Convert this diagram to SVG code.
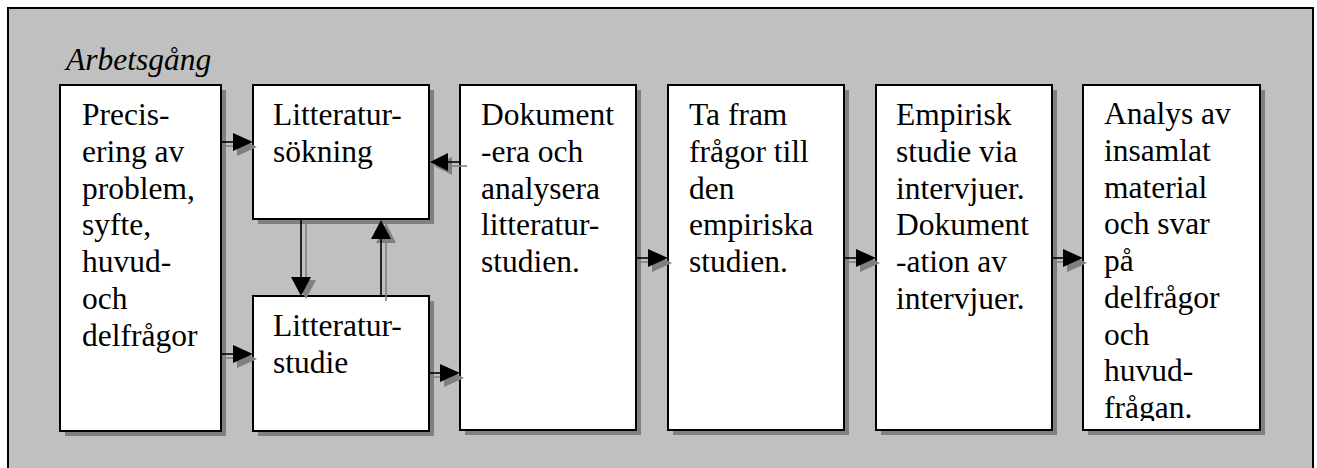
<svg xmlns="http://www.w3.org/2000/svg" width="1317" height="468" viewBox="0 0 1317 468">
  <style>
    .frame { fill: #c0c0c0; stroke: #000; stroke-width: 2; }
    .box { fill: #fff; stroke: #000; stroke-width: 2; }
    .shadow { fill: #808080; }
    text { font-family: 'Liberation Serif', Tinos, 'Nimbus Roman', 'Nimbus Roman No9 L', 'Noto Serif', 'DejaVu Serif', FreeSerif, Times, serif; font-size: 31.5px; fill: #000; }
    .title { font-style: italic; }
    .line { stroke: #000; stroke-width: 1.6; fill: none; }
    .line-sh { stroke: #808080; stroke-width: 1.6; fill: none; }
    .head { fill: #000; }
    .head-sh { fill: #808080; }
  </style>
  <defs>
    <clipPath id="clip-analys">
      <rect x="1083" y="85" width="177" height="336"/>
    </clipPath>
  </defs>

  <!-- background panel (open at the bottom) -->
  <rect class="frame" x="8" y="8" width="1305" height="480"/>

  <text class="title" x="66" y="70">Arbetsgång</text>

  <!-- process steps -->
  <g id="precisering">
    <rect class="shadow" x="65" y="90" width="161" height="346"/>
    <rect class="box" x="60" y="85" width="161" height="346"/>
    <text x="82" y="125">
      <tspan x="82">Precis-</tspan>
      <tspan x="82" dy="36.75">ering av</tspan>
      <tspan x="82" dy="36.75">problem,</tspan>
      <tspan x="82" dy="36.75">syfte,</tspan>
      <tspan x="82" dy="36.75">huvud-</tspan>
      <tspan x="82" dy="36.75">och</tspan>
      <tspan x="82" dy="36.75">delfrågor</tspan>
    </text>
  </g>

  <g id="litteratursokning">
    <rect class="shadow" x="258" y="90" width="176" height="134"/>
    <rect class="box" x="253" y="85" width="176" height="134"/>
    <text x="273" y="125">
      <tspan x="273">Litteratur-</tspan>
      <tspan x="273" dy="36.75">sökning</tspan>
    </text>
  </g>

  <g id="litteraturstudie">
    <rect class="shadow" x="258" y="301" width="176" height="135"/>
    <rect class="box" x="253" y="296" width="176" height="135"/>
    <text x="273" y="336">
      <tspan x="273">Litteratur-</tspan>
      <tspan x="273" dy="36.75">studie</tspan>
    </text>
  </g>

  <g id="dokumentera">
    <rect class="shadow" x="465" y="90" width="176" height="345"/>
    <rect class="box" x="460" y="85" width="176" height="345"/>
    <text x="481" y="125">
      <tspan x="481">Dokument</tspan>
      <tspan x="481" dy="36.75">-era och</tspan>
      <tspan x="481" dy="36.75">analysera</tspan>
      <tspan x="481" dy="36.75">litteratur-</tspan>
      <tspan x="481" dy="36.75">studien.</tspan>
    </text>
  </g>

  <g id="fragor">
    <rect class="shadow" x="673" y="90" width="176" height="345"/>
    <rect class="box" x="668" y="85" width="176" height="345"/>
    <text x="689" y="125">
      <tspan x="689">Ta fram</tspan>
      <tspan x="689" dy="36.75">frågor till</tspan>
      <tspan x="689" dy="36.75">den</tspan>
      <tspan x="689" dy="36.75">empiriska</tspan>
      <tspan x="689" dy="36.75">studien.</tspan>
    </text>
  </g>

  <g id="empirisk">
    <rect class="shadow" x="881" y="90" width="176" height="345"/>
    <rect class="box" x="876" y="85" width="176" height="345"/>
    <text x="896" y="125">
      <tspan x="896">Empirisk</tspan>
      <tspan x="896" dy="36.75">studie via</tspan>
      <tspan x="896" dy="36.75">intervjuer.</tspan>
      <tspan x="896" dy="36.75">Dokument</tspan>
      <tspan x="896" dy="36.75">-ation av</tspan>
      <tspan x="896" dy="36.75">intervjuer.</tspan>
    </text>
  </g>

  <g id="analys">
    <rect class="shadow" x="1088" y="90" width="177" height="345"/>
    <rect class="box" x="1083" y="85" width="177" height="345"/>
    <text x="1104" y="124" clip-path="url(#clip-analys)">
      <tspan x="1104">Analys av</tspan>
      <tspan x="1104" dy="36.75">insamlat</tspan>
      <tspan x="1104" dy="36.75">material</tspan>
      <tspan x="1104" dy="36.75">och svar</tspan>
      <tspan x="1104" dy="36.75">på</tspan>
      <tspan x="1104" dy="36.75">delfrågor</tspan>
      <tspan x="1104" dy="36.75">och</tspan>
      <tspan x="1104" dy="36.75">huvud-</tspan>
      <tspan x="1104" dy="36.75">frågan.</tspan>
    </text>
  </g>

  <!-- connectors: grey drop shadow first, black arrow on top -->
  <g id="connectors">
    <!-- Precisering -> Litteratursökning -->
    <line class="line-sh" x1="222" y1="146" x2="240" y2="146"/>
    <polygon class="head-sh" points="237,137 257,147 237,156"/>
    <line class="line" x1="222" y1="142" x2="236" y2="142"/>
    <polygon class="head" points="233,133 253,142 233,151"/>

    <!-- Precisering -> Litteraturstudie -->
    <line class="line-sh" x1="222" y1="358" x2="240" y2="358"/>
    <polygon class="head-sh" points="237,349 257,359 237,368"/>
    <line class="line" x1="222" y1="354" x2="236" y2="354"/>
    <polygon class="head" points="233,345 253,354 233,363"/>

    <!-- Litteraturstudie -> Dokumentera -->
    <line class="line-sh" x1="430" y1="377" x2="447" y2="377"/>
    <polygon class="head-sh" points="444,368 464,378 444,387"/>
    <line class="line" x1="430" y1="373" x2="443" y2="373"/>
    <polygon class="head" points="440,364 460,373 440,382"/>

    <!-- Dokumentera -> Litteratursökning -->
    <line class="line-sh" x1="446" y1="166" x2="467" y2="166"/>
    <polygon class="head-sh" points="434,166 452,157 452,175"/>
    <line class="line" x1="445" y1="162" x2="460" y2="162"/>
    <polygon class="head" points="430,162 448,153 448,171"/>

    <!-- Litteratursökning -> Litteraturstudie -->
    <line class="line-sh" x1="306" y1="220" x2="306" y2="282"/>
    <polygon class="head-sh" points="296,280 316,280 306,299"/>
    <line class="line" x1="301" y1="220" x2="301" y2="280"/>
    <polygon class="head" points="291,277 311,277 301,296"/>

    <!-- Litteraturstudie -> Litteratursökning -->
    <line class="line-sh" x1="386" y1="236" x2="386" y2="301"/>
    <polygon class="head-sh" points="386,223 396,243 376,243"/>
    <line class="line" x1="381" y1="236" x2="381" y2="296"/>
    <polygon class="head" points="381,220 391,239 371,239"/>

    <!-- Dokumentera -> Ta fram frågor -->
    <line class="line-sh" x1="637" y1="262" x2="655" y2="262"/>
    <polygon class="head-sh" points="652,253 672,263 652,272"/>
    <line class="line" x1="637" y1="258" x2="651" y2="258"/>
    <polygon class="head" points="648,249 668,258 648,267"/>

    <!-- Ta fram frågor -> Empirisk studie -->
    <line class="line-sh" x1="845" y1="262" x2="863" y2="262"/>
    <polygon class="head-sh" points="860,253 880,263 860,272"/>
    <line class="line" x1="845" y1="258" x2="859" y2="258"/>
    <polygon class="head" points="856,249 876,258 856,267"/>

    <!-- Empirisk studie -> Analys -->
    <line class="line-sh" x1="1053" y1="262" x2="1070" y2="262"/>
    <polygon class="head-sh" points="1067,253 1087,263 1067,272"/>
    <line class="line" x1="1053" y1="258" x2="1066" y2="258"/>
    <polygon class="head" points="1063,249 1083,258 1063,267"/>
  </g>
</svg>
